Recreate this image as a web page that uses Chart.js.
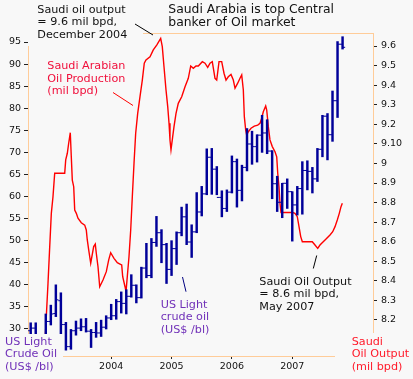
<!DOCTYPE html>
<html><head><meta charset="utf-8">
<script src="https://cdn.jsdelivr.net/npm/chart.js@4/dist/chart.umd.min.js"></script>
<style>
html,body{margin:0;padding:0;background:#f8f8f8;}
#wrap{position:relative;width:413px;height:379px;overflow:hidden;background:#f8f8f8;}
#c{position:absolute;left:0;top:0;}
.lbl{position:absolute;font-family:"DejaVu Sans",Verdana,sans-serif;font-size:11.2px;line-height:12.6px;white-space:nowrap;}
.ttl{position:absolute;font-family:"DejaVu Sans",Verdana,sans-serif;font-size:12.4px;line-height:12.7px;white-space:nowrap;color:#111;}
</style></head><body>
<div id="wrap">
<canvas id="c" width="413" height="379"></canvas>
<div class="lbl" style="left:37.3px;top:3.8px;color:#111">Saudi oil output<br>= 9.6 mil bpd,<br>December 2004</div>
<div class="ttl" style="left:168.3px;top:3.4px">Saudi Arabia is top Central<br>banker of Oil market</div>
<div class="lbl" style="left:47.3px;top:60.3px;color:#f0103c">Saudi Arabian<br>Oil Production<br>(mil bpd)</div>
<div class="lbl" style="left:160.7px;top:298.8px;color:#7030b8">US Light<br>crude oil<br>(US$ /bl)</div>
<div class="lbl" style="left:5px;top:335.5px;color:#7030b8">US Light<br>Crude Oil<br>(US$ /bl)</div>
<div class="lbl" style="left:259.3px;top:275.8px;color:#111">Saudi Oil Output<br>= 8.6 mil bpd,<br>May 2007</div>
<div class="lbl" style="left:351.7px;top:335.5px;color:#ff1a2a">Saudi<br>Oil Output<br>(mil bpd)</div>
</div>
<script>
// Monthly US light crude bars, Sep 2002 (index 0) .. Nov 2007 (index 62)
const oilOpen  = [29.6,30.2,27.2,27.0,31.7,33.5,36.4,31.0,26.0,29.6,30.2,30.5,29.5,29.2,29.1,30.4,
  32.5,33.0,36.2,35.8,37.4,39.9,37.1,43.8,42.1,49.6,51.8,49.1,
  43.5,48.2,51.8,55.4,49.7,52.0,56.5,60.6,68.9,66.2,59.8,57.3,
  61.0,67.9,61.4,66.6,71.9,71.3,73.9,74.4,70.3,62.9,58.7,63.0,
  61.1,58.1,61.8,65.9,65.7,64.0,70.7,78.2,74.0,81.7,94.5];
const oilHigh  = [31.4,31.4,28.0,33.4,35.4,40.0,38.2,31.5,29.9,31.8,32.3,32.4,29.9,31.5,32.0,33.0,
  35.6,36.7,38.4,38.9,42.3,40.0,44.0,49.4,50.5,55.5,52.5,49.4,
  50.0,52.0,57.6,58.3,53.6,60.9,62.3,70.8,70.9,66.8,61.3,61.5,
  69.2,68.5,67.1,75.4,74.8,74.0,78.4,77.4,70.4,64.6,63.0,64.0,
  61.1,62.3,67.9,68.1,66.6,70.9,78.4,78.8,83.9,95.1,96.2];
const oilLow   = [28.4,26.8,25.1,26.5,30.9,32.8,26.8,25.2,25.4,28.6,29.6,29.3,25.8,28.1,28.3,30.0,
  32.1,32.2,33.6,33.4,37.2,35.9,37.0,41.6,41.6,48.7,45.0,40.3,
  42.1,44.6,51.1,49.1,46.2,51.8,55.6,60.4,60.5,60.4,55.4,56.6,
  60.8,57.6,59.0,65.8,67.3,67.8,70.0,69.7,59.5,56.6,55.2,57.3,
  49.9,55.8,56.0,61.5,60.8,63.4,69.0,68.3,72.5,77.9,93.4];
const oilClose = [30.2,27.2,26.9,31.7,33.4,36.6,31.0,26.0,29.6,30.2,30.5,29.5,29.2,29.1,30.4,32.5,
  33.0,36.2,35.8,37.4,39.9,37.1,43.8,42.1,49.6,51.8,49.1,43.5,
  48.2,51.8,55.4,49.7,52.0,56.5,60.6,68.9,66.2,59.8,57.3,61.0,
  67.9,61.4,66.6,71.9,71.3,73.9,74.4,70.3,62.9,58.7,63.0,61.1,
  58.1,61.8,65.9,65.7,64.0,70.7,78.2,74.0,81.7,94.5,93.8];

// Saudi oil output (mil bpd); x in months from Sep 2002
const saudiX = [2.74,3.44,3.78,4.10,4.43,4.77,6.76,6.96,7.28,7.55,7.87,8.07,8.27,8.55,8.75,9.07,9.40,10.06,10.74,11.05,
  11.25,11.53,11.93,12.52,12.84,13.04,13.38,13.72,14.37,15.03,15.51,15.90,16.56,17.22,17.75,18.09,18.29,18.75,18.95,19.20,
  19.54,19.88,20.20,20.54,20.87,21.27,21.73,22.19,22.58,22.92,23.72,24.37,25.05,25.84,26.16,26.50,26.90,27.24,27.50,27.69,
  27.89,28.23,28.49,28.89,29.34,30.02,30.68,31.33,31.81,32.33,32.86,33.32,34.12,34.65,35.19,35.65,36.10,36.64,36.98,37.44,
  37.97,38.43,38.83,39.28,39.82,40.28,40.62,41.15,41.61,41.95,42.27,42.47,42.74,42.94,43.26,43.80,44.45,45.13,45.59,45.92,
  46.24,46.72,46.92,47.24,47.57,48.03,48.57,48.91,49.11,49.36,49.56,49.76,52.09,52.54,53.00,53.34,53.68,54.00,55.98,56.52,
  57.06,57.51,58.51,59.50,60.04,60.50,60.95,61.35,61.69,61.95];
const saudiY = [8.036,8.388,8.575,8.745,8.830,8.950,8.950,9.018,9.052,9.103,9.157,9.034,8.915,8.881,8.762,8.745,8.720,8.697,8.685,8.660,
  8.609,8.558,8.490,8.575,8.588,8.541,8.472,8.370,8.404,8.447,8.507,8.544,8.515,8.493,8.486,8.481,8.421,8.370,8.345,8.421,
  8.523,8.660,8.830,9.001,9.154,9.256,9.341,9.426,9.512,9.529,9.545,9.580,9.605,9.639,9.597,9.494,9.375,9.290,9.205,9.120,
  9.069,9.137,9.188,9.256,9.307,9.341,9.392,9.435,9.498,9.486,9.498,9.498,9.520,9.512,9.491,9.512,9.520,9.435,9.426,9.520,
  9.520,9.461,9.426,9.443,9.455,9.426,9.384,9.410,9.435,9.452,9.375,9.239,9.171,9.145,9.162,9.180,9.191,9.196,9.205,9.231,
  9.264,9.294,9.273,9.188,9.120,9.086,9.060,9.034,8.950,8.881,8.796,8.749,8.749,8.745,8.728,8.677,8.626,8.600,8.600,8.583,
  8.566,8.583,8.609,8.634,8.651,8.677,8.711,8.745,8.779,8.796];

const yearLabels = ['2004','2005','2006','2007'];
const yearTickPos = [16,28,40,52];
const leftTicks = [30,35,40,45,50,55,60,65,70,75,80,85,90,95];
const rightTicks = [8.2,8.3,8.4,8.5,8.6,8.7,8.8,8.9,9.0,9.1,9.2,9.3,9.4,9.5,9.6];
const rightTickLabels = ['8.2','8.3','8.4','8.5','8.6','8.7','8.8','8.9','9','9.10','9.2','9.3','9.4','9.5','9.6'];

const BLUE = '#000099';
const BG = '#f8f8f8';
const FONT = {family:'"DejaVu Sans", Verdana, sans-serif', size:9.5};

const bars = oilHigh.map((h,i)=>({x:i, y:[oilLow[i], h]}));
const opens = oilOpen.map((v,i)=>({x:i, y:v}));
const closes = oilClose.map((v,i)=>({x:i, y:v}));
const saudi = saudiX.map((x,k)=>({x:x, y:saudiY[k]}));

const framePlugin = {
  id:'frame',
  beforeDatasetsDraw(chart){
    const {ctx, chartArea:a} = chart;
    ctx.save(); ctx.strokeStyle='#ffcc99'; ctx.lineWidth=1;
    ctx.strokeRect(a.left+0.5, a.top+0.5, a.right-a.left, a.bottom-a.top);
    ctx.restore();
  },
  afterDatasetsDraw(chart){
    const ctx = chart.ctx;
    ctx.save(); ctx.fillStyle = BG;
    ctx.fillRect(28,0,115,46);
    ctx.fillRect(0,334,63,45);
    ctx.fillRect(335,333,78,46);
    ctx.restore();
  },
  afterDraw(chart){
    const ctx = chart.ctx;
    const seg = (x1,y1,x2,y2,c)=>{ctx.beginPath();ctx.moveTo(x1,y1);ctx.lineTo(x2,y2);ctx.strokeStyle=c;ctx.lineWidth=1;ctx.stroke();};
    ctx.save();
    seg(135,24,153,35,'#000');
    seg(113,92.5,133,105.5,'#ff0000');
    seg(182.5,277,186,291.7,'#000080');
    seg(313.3,268.5,316.7,255.5,'#000');
    ctx.restore();
  }
};

new Chart(document.getElementById('c'), {
  type:'scatter',
  data:{datasets:[
    {type:'bar', data:bars, backgroundColor:BLUE, borderWidth:0, barThickness:1.8, yAxisID:'y', order:1},
    {type:'scatter', data:opens, pointStyle:'dash', rotation:180, pointRadius:2.6, borderColor:BLUE, backgroundColor:BLUE, borderWidth:1, yAxisID:'y', order:0},
    {type:'scatter', data:closes, pointStyle:'dash', rotation:0, pointRadius:2.6, borderColor:BLUE, backgroundColor:BLUE, borderWidth:1, yAxisID:'y', order:0},
    {type:'line', data:saudi, borderColor:'#ff0000', borderWidth:1.4, pointRadius:0, tension:0, fill:false, yAxisID:'y2', order:5}
  ]},
  options:{
    responsive:false, animation:false, devicePixelRatio:1, events:[],
    layout:{padding:{top:33,left:0,right:0,bottom:0}},
    plugins:{legend:{display:false}, tooltip:{enabled:false}},
    scales:{
      x:{type:'linear', min:-0.537, max:68.05, offset:false,
        grid:{offset:false, drawOnChartArea:false, drawTicks:true, tickLength:3, color:'#222'},
        border:{display:false},
        ticks:{font:FONT, color:'#111', padding:2, maxRotation:0, autoSkip:false, callback:(v,i)=>yearLabels[i]},
        afterBuildTicks:s=>{s.ticks = yearTickPos.map(v=>({value:v}));},
        afterFit:s=>{s.height=23;}
      },
      y:{type:'linear', position:'left', min:23.88, max:97.04,
        grid:{drawOnChartArea:false, drawTicks:true, tickLength:4, color:'#222'},
        border:{display:false},
        ticks:{font:FONT, color:'#111', padding:3, autoSkip:false, callback:v=>String(v)},
        afterBuildTicks:s=>{s.ticks = leftTicks.map(v=>({value:v}));},
        afterFit:s=>{s.width=28;}
      },
      y2:{type:'linear', position:'right', min:8.016, max:9.6665,
        grid:{drawOnChartArea:false, drawTicks:true, tickLength:4, color:'#222'},
        border:{display:false},
        ticks:{font:FONT, color:'#111', padding:4, autoSkip:false, callback:(v,i)=>rightTickLabels[i]},
        afterBuildTicks:s=>{s.ticks = rightTicks.map(v=>({value:v}));},
        afterFit:s=>{s.width=40;}
      }
    }
  },
  plugins:[framePlugin]
});
</script>
</body></html>
